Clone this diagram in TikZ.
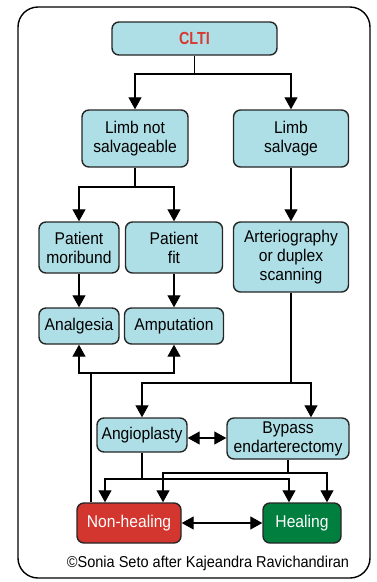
\documentclass[tikz,border=0pt]{standalone}
\usepackage{fontspec}
\setmainfont[FakeStretch=0.92]{Liberation Sans}
\newfontfamily\condfont[FakeStretch=0.82]{Liberation Sans}
\usepackage{tikz}
\usetikzlibrary{arrows.meta,calc,positioning}
\definecolor{boxcyan}{HTML}{AEDFE6}
\definecolor{cltired}{HTML}{D63A33}
\definecolor{nhred}{HTML}{D2362F}
\definecolor{hlgreen}{HTML}{007F3E}

\begin{document}
\begin{tikzpicture}[x=1pt,y=-1pt,>={Triangle[width=13pt,length=12pt]},
  box/.style={draw=black!85,line width=1.4pt,rounded corners=7pt,fill=boxcyan,align=center,
    inner sep=0pt,font=\fontsize{17}{19}\selectfont},
  arr/.style={->,line width=1.2pt},
  lnk/.style={line width=1.2pt}]
  \useasboundingbox (0,0) rectangle (377,582);
  \draw[line width=1.4pt,rounded corners=20pt] (18,7) rectangle (370,578);
  % boxes
  \node[box,minimum width=165pt,minimum height=33pt,text=cltired,font=\condfont\bfseries\fontsize{17.5}{19}\selectfont]
    (clti) at (194.5,38.5) {CLTI};
  \node[box,minimum width=106pt,minimum height=57pt] (lns) at (135,138.5) {Limb not\\salvageable};
  \node[box,minimum width=115pt,minimum height=57pt] (ls) at (291,138.5) {Limb\\salvage};
  \node[box,minimum width=80pt,minimum height=51pt] (pm) at (79,247.5) {Patient\\moribund};
  \node[box,minimum width=97pt,minimum height=51pt] (pf) at (174,247.5) {Patient\\fit};
  \node[box,minimum width=115pt,minimum height=70pt] (art) at (291,257) {Arteriography\\or duplex\\scanning};
  \node[box,minimum width=80pt,minimum height=36pt] (ana) at (79,326) {Analgesia};
  \node[box,minimum width=99pt,minimum height=36pt] (amp) at (174,326) {Amputation};
  \node[box,minimum width=90pt,minimum height=34pt] (ang) at (142,435) {Angioplasty};
  \node[box,minimum width=122pt,minimum height=41pt] (byp) at (288,438.5) {Bypass\\endarterectomy};
  \node[box,minimum width=104pt,minimum height=40pt,fill=nhred,text=white] (nh) at (129,523) {Non-healing};
  \node[box,minimum width=78pt,minimum height=40pt,fill=hlgreen,text=white] (hl) at (302,523) {Healing};
  \node[font=\fontsize{15.8}{17}\selectfont] (credit) at (208,563) {©Sonia Seto after Kajeandra Ravichandiran};
  % connectors
  \foreach \t in {lns,ls}
    \draw[arr] (clti.south) -- (clti.south |- 0,74) -| (\t.north);
  \foreach \t in {pm,pf}
    \draw[arr] (lns.south) -- (lns.south |- 0,187) -| (\t.north);
  \draw[arr] (ls) -- (art);
  \draw[arr] (pm) -- (ana);
  \draw[arr] (pf) -- (amp);
  \coordinate (j) at (91,373);
  \draw[lnk] ([xshift=-38pt]nh.north) -- (j);
  \foreach \t in {ana,amp}
    \draw[arr] (j) -| (\t.south);
  \draw[arr] (art.south) -- (art.south |- 0,383) -| (ang.north);
  \draw[arr] (art.south |- 0,383) -| ([xshift=23pt]byp.north);
  \draw[<->,line width=1.2pt] ([yshift=-3pt]ang.east) -- ([yshift=-3pt]ang.east -| byp.west);
  \draw[arr] (ang.south) -- (ang.south |- 0,479) -| ([xshift=-24pt]nh.north);
  \draw[arr] (ang.south |- 0,479) -| ([xshift=-13pt]hl.north);
  \draw[arr] (byp.south) -- (byp.south |- 0,473) -| ([xshift=34pt]nh.north);
  \draw[arr] (byp.south |- 0,473) -| ([xshift=25pt]hl.north);
  \draw[<->,line width=1.2pt] (nh) -- (hl);
\end{tikzpicture}
\end{document}
